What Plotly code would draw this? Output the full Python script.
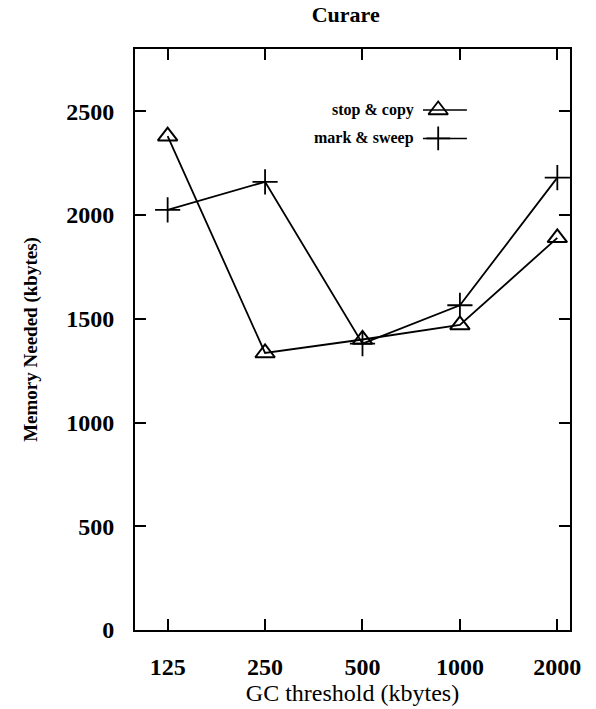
import plotly.graph_objects as go

# ---- data ----
thresholds = ["125", "250", "500", "1000", "2000"]
stop_copy = [2380, 1335, 1400, 1470, 1890]
mark_sweep = [2025, 2160, 1380, 1565, 2180]
y_ticks = [0, 500, 1000, 1500, 2000, 2500]
series_names = ["stop & copy", "mark & sweep"]

xpos = list(range(len(thresholds)))

SERIF = "Liberation Serif, DejaVu Serif, serif"

fig = go.Figure()

fig.add_trace(go.Scatter(
    x=xpos, y=stop_copy, mode="lines+markers", name=series_names[0],
    line=dict(color="black", width=1.8),
    marker=dict(symbol="triangle-up-open", size=17, color="black",
                line=dict(width=2, color="black")),
    showlegend=False,
))
fig.add_trace(go.Scatter(
    x=xpos, y=mark_sweep, mode="lines+markers", name=series_names[1],
    line=dict(color="black", width=1.8),
    marker=dict(symbol="cross-thin-open", size=18, color="black",
                line=dict(width=1.8, color="black")),
    showlegend=False,
))

# ---- hand-made legend (text left of the sample, as in the original) ----
leg_y = [0.895, 0.846]
leg_symbols = ["triangle-up-open", "cross-thin-open"]
for name, ly, sym in zip(series_names, leg_y, leg_symbols):
    fig.add_trace(go.Scatter(
        x=[0.662, 0.763], y=[ly, ly], mode="lines",
        line=dict(color="black", width=1.5),
        xaxis="x2", yaxis="y2", showlegend=False, hoverinfo="skip",
    ))
    fig.add_trace(go.Scatter(
        x=[0.697], y=[ly], mode="markers",
        marker=dict(symbol=sym, size=17, color="black",
                    line=dict(width=1.8, color="black")),
        xaxis="x2", yaxis="y2", showlegend=False, hoverinfo="skip",
    ))
    fig.add_annotation(
        x=0.646, y=ly, xref="x2", yref="y2", text=name, showarrow=False,
        xanchor="right", yanchor="middle",
        font=dict(family=SERIF, size=16, color="black", weight="bold"),
    )

fig.update_layout(
    width=596, height=709,
    margin=dict(l=135, r=26, t=49, b=77),
    paper_bgcolor="white", plot_bgcolor="white",
    title=dict(text="Curare", x=0.58, xanchor="center", y=0.98, yanchor="middle",
               font=dict(family=SERIF, size=22, color="black", weight="bold")),
    xaxis=dict(
        range=[-0.335, 4.13], tickmode="array", tickvals=xpos, ticktext=thresholds,
        ticks="inside", ticklen=11, tickwidth=1.5, tickcolor="black",
        showline=True, linecolor="black", linewidth=2, mirror="ticks",
        showgrid=False, zeroline=False, ticklabelstandoff=14,
        tickfont=dict(family=SERIF, size=24, color="black", weight="bold"),
        title=dict(text="GC threshold (kbytes)", standoff=0,
                   font=dict(family=SERIF, size=24, color="black")),
    ),
    yaxis=dict(
        range=[0, 2800], tickmode="array", tickvals=y_ticks,
        ticks="inside", ticklen=11, tickwidth=1.5, tickcolor="black",
        showline=True, linecolor="black", linewidth=2, mirror="ticks",
        showgrid=False, zeroline=False, ticklabelstandoff=14,
        tickfont=dict(family=SERIF, size=24, color="black", weight="bold"),
        title=dict(text="Memory Needed (kbytes)", standoff=24,
                   font=dict(family=SERIF, size=19, color="black", weight="bold")),
    ),
    xaxis2=dict(overlaying="x", range=[0, 1], visible=False),
    yaxis2=dict(overlaying="y", range=[0, 1], visible=False),
)

fig.write_html("out.html")
